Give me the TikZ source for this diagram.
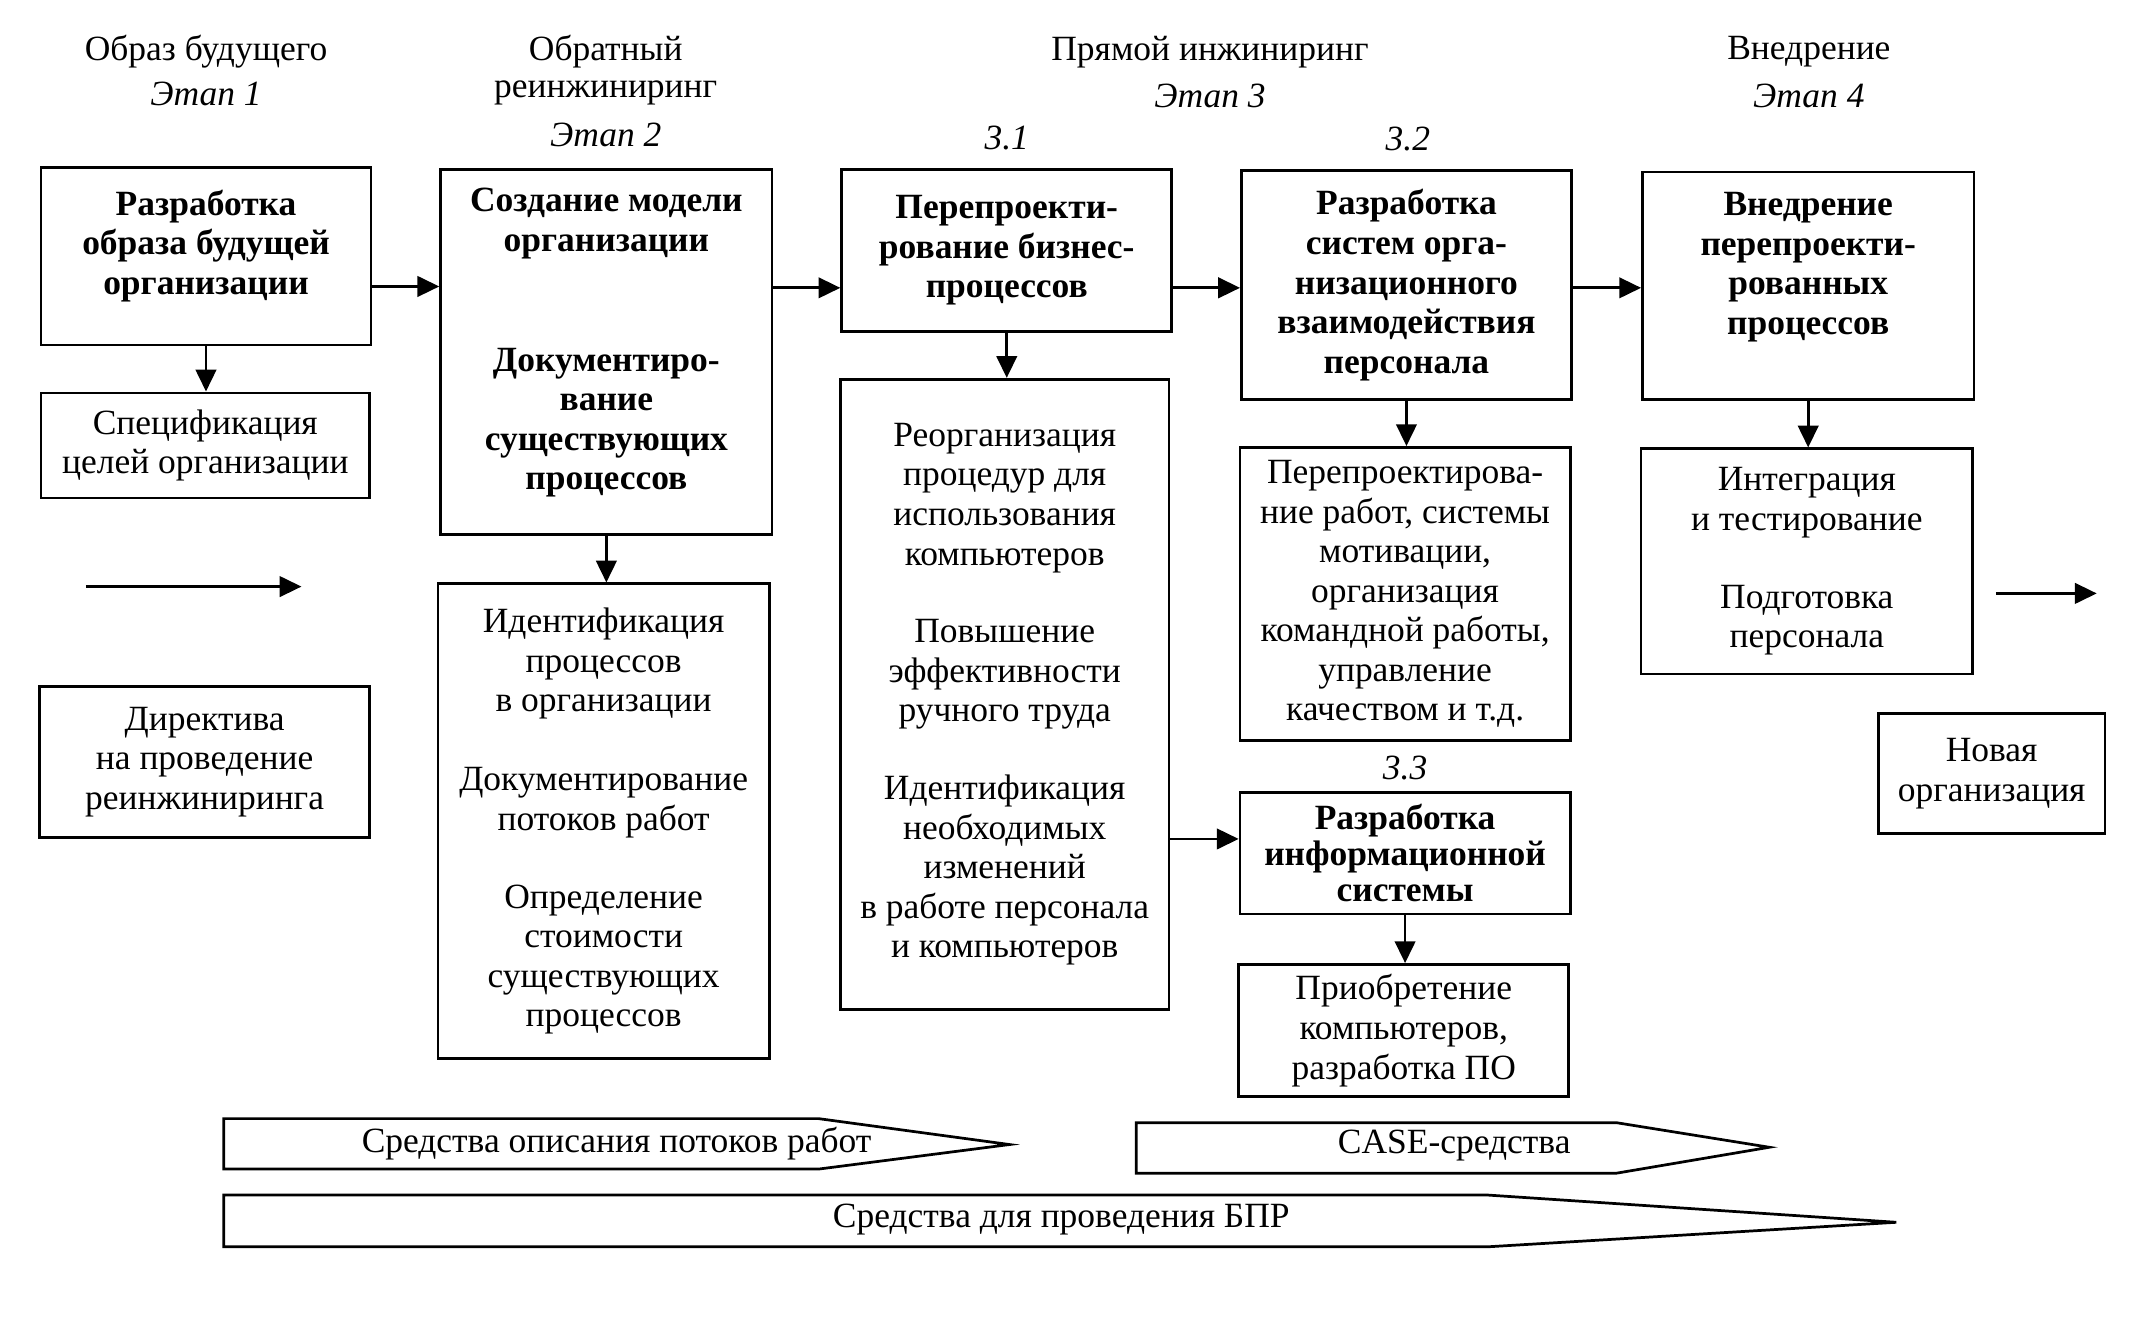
\documentclass[tikz,border=0pt]{standalone}
\usepackage{fontspec}
\setmainfont{Liberation Serif}
\usetikzlibrary{arrows.meta}
\newcommand\fsz{\fontsize{26}{29}\selectfont}
\begin{document}
\begin{tikzpicture}[x=1pt,y=-1pt,
  box/.style={draw,line width=2pt,inner sep=0pt,align=center,anchor=north west,font=\fsz},
  bbox/.style={box,font=\fsz\bfseries},
  lbl/.style={font=\fsz,align=center,inner sep=0pt},
  ilbl/.style={font=\fsz\itshape,inner sep=0pt},
  arr/.style={line width=2pt,-{Triangle[length=16pt,width=15pt]}},
  tool/.style={draw,line width=2pt,line join=miter}]
\useasboundingbox (0,0) rectangle (1568,983.7);

% headers
\node[lbl]  (h1)  at (151,38) {Образ будущего};
\node[ilbl] (e1)  at (151,69) {Этап 1};
\node[lbl]  (h2a) at (444,38) {Обратный};
\node[lbl]  (h2b) at (444,68) {реинжиниринг};
\node[ilbl] (e2)  at (444,99) {Этап 2};
\node[lbl]  (h3)  at (887,38) {Прямой инжиниринг};
\node[ilbl] (e3)  at (887,70) {Этап 3};
\node[lbl]  (h4)  at (1326,38) {Внедрение};
\node[ilbl] (e4)  at (1326,70) {Этап 4};
\node[ilbl] (n31) at (738,101) {3.1};
\node[ilbl] (n32) at (1032,102) {3.2};
\node[ilbl] (n33) at (1030,563) {3.3};

% column 1
\node[bbox,minimum width=242pt,minimum height=130pt] (b1) at (29,122)
  {Разработка\\образа будущей\\организации\\[-8pt]\mbox{}};
\node[box,minimum width=241pt,minimum height=77pt] (b1b) at (29,287)
  {Спецификация\\целей организации};
\node[box,minimum width=242pt,minimum height=111pt] (b1c) at (28,502)
  {Директива\\на проведение\\реинжиниринга};

% column 2
\node[bbox,minimum width=243pt,minimum height=268pt] (b2) at (322,123)
  {Создание модели\\организации\\[59pt]Документиро-\\вание\\существующих\\процессов\\[-10pt]\mbox{}};
\node[box,minimum width=243pt,minimum height=348pt] (b2b) at (320,427)
  {Идентификация\\процессов\\в организации\\[29pt]Документирование\\потоков работ\\[28pt]Определение\\стоимости\\существующих\\процессов};

% column 3
\node[bbox,minimum width=242pt,minimum height=119pt] (b3) at (616,123)
  {Перепроекти-\\рование бизнес-\\процессов};
\node[box,minimum width=241pt,minimum height=462pt] (b3b) at (615,277)
  {Реорганизация\\процедур для\\использования\\компьютеров\\[28pt]Повышение\\эффективности\\ручного труда\\[28pt]Идентификация\\необходимых\\изменений\\в работе персонала\\и компьютеров};

% column 4
\node[bbox,minimum width=242pt,minimum height=168pt] (b4) at (909,124)
  {Разработка\\систем орга-\\низационного\\взаимодействия\\персонала};
\node[box,minimum width=242pt,minimum height=215pt] (b4b) at (908,327)
  {Перепроектирова-\\ние работ, системы\\мотивации,\\организация\\командной работы,\\управление\\качеством и т.д.};
\node[bbox,minimum width=242pt,minimum height=89pt] (b5) at (908,580)
  {Разработка\\[-2.5pt]информационной\\[-2.5pt]системы};
\node[box,minimum width=242pt,minimum height=97pt] (b5b) at (907,706)
  {Приобретение\\компьютеров,\\разработка ПО};

% column 5
\node[bbox,minimum width=243pt,minimum height=167pt] (b6) at (1203,125)
  {Внедрение\\перепроекти-\\рованных\\процессов\\[4pt]\mbox{}};
\node[box,minimum width=243pt,minimum height=165pt] (b6b) at (1202,328)
  {Интеграция\\и тестирование\\[28pt]Подготовка\\персонала};
\node[box,minimum width=166pt,minimum height=88pt] (b7) at (1376,522)
  {Новая\\организация};

% connectors
\draw[arr] (b1.east |- 0,210) -- (b2.west |- 0,210);
\draw[arr] (b2.east |- 0,211) -- (b3.west |- 0,211);
\draw[arr] (b3.east |- 0,211) -- (b4.west |- 0,211);
\draw[arr] (b4.east |- 0,211) -- (b6.west |- 0,211);
\draw[arr] (b3b.east |- 0,615) -- (b5.west |- 0,615);
\draw[arr] (b1.south) -- (b1.south |- b1b.north);
\draw[arr] (b2.south) -- (b2.south |- b2b.north);
\draw[arr] (b3.south) -- (b3.south |- b3b.north);
\draw[arr] (b4.south) -- (b4.south |- b4b.north);
\draw[arr] (b5.south) -- (b5.south |- b5b.north);
\draw[arr] (b6.south) -- (b6.south |- b6b.north);

\coordinate (fa1) at (63,430);
\coordinate (fa2) at (221,430);
\draw[arr] (fa1) -- (fa2);
\coordinate (fb1) at (1463,435);
\coordinate (fb2) at (1537,435);
\draw[arr] (fb1) -- (fb2);

% tool arrows
\draw[tool] (164,820) -- (600,820) -- (740,839) -- (600,857) -- (164,857) -- cycle;
\node[lbl] (t1) at (452,838) {Средства описания потоков работ};
\draw[tool] (833,823) -- (1185,823) -- (1297,841) -- (1185,860) -- (833,860) -- cycle;
\node[lbl] (t2) at (1066,840) {CASE-средства};
\draw[tool] (164,876) -- (1090,876) -- (1390,896) -- (1090,914) -- (164,914) -- cycle;
\node[lbl] (t3) at (778,894) {Средства для проведения БПР};
\end{tikzpicture}
\end{document}
